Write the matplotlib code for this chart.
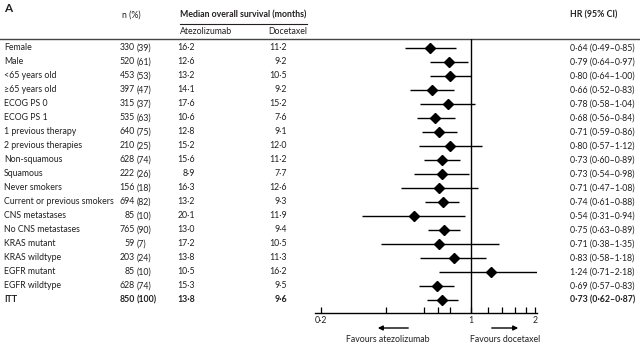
import matplotlib
matplotlib.use("Agg")
import matplotlib.pyplot as plt
import numpy as np

plt.rcParams['font.family'] = ['Lato', 'DejaVu Sans']

# data
labels = ["Female", "Male", "<65 years old", "\u226565 years old", "ECOG PS 0", "ECOG PS 1",
          "1 previous therapy", "2 previous therapies", "Non-squamous", "Squamous",
          "Never smokers", "Current or previous smokers", "CNS metastases",
          "No CNS metastases", "KRAS mutant", "KRAS wildtype", "EGFR mutant",
          "EGFR wildtype", "ITT"]
n_pts = [330, 520, 453, 397, 315, 535, 640, 210, 628, 222, 156, 694, 85, 765, 59, 203, 85, 628, 850]
n_pct = [39, 61, 53, 47, 37, 63, 75, 25, 74, 26, 18, 82, 10, 90, 7, 24, 10, 74, 100]
os_atezo = [16.2, 12.6, 13.2, 14.1, 17.6, 10.6, 12.8, 15.2, 15.6, 8.9, 16.3, 13.2, 20.1,
            13.0, 17.2, 13.8, 10.5, 15.3, 13.8]
os_doce = [11.2, 9.2, 10.5, 9.2, 15.2, 7.6, 9.1, 12.0, 11.2, 7.7, 12.6, 9.3, 11.9,
           9.4, 10.5, 11.3, 16.2, 9.5, 9.6]
hr = [0.64, 0.79, 0.80, 0.66, 0.78, 0.68, 0.71, 0.80, 0.73, 0.73, 0.71, 0.74, 0.54,
      0.75, 0.71, 0.83, 1.24, 0.69, 0.73]
hr_lo = [0.49, 0.64, 0.64, 0.52, 0.58, 0.56, 0.59, 0.57, 0.60, 0.54, 0.47, 0.61, 0.31,
         0.63, 0.38, 0.58, 0.71, 0.57, 0.62]
hr_hi = [0.85, 0.97, 1.00, 0.83, 1.04, 0.84, 0.86, 1.12, 0.89, 0.98, 1.08, 0.88, 0.94,
         0.89, 1.35, 1.18, 2.18, 0.83, 0.87]
tick_vals = [0.2, 0.4, 0.6, 0.7, 0.8, 1, 1.2, 1.4, 1.6, 1.8, 2]
tick_text = {0.2: "0\u00b72", 1: "1", 2: "2"}

W, H = 640, 352
TXT = '#231f20'
FS = 6.3

def dot(v, fmt="{:.1f}"):
    return fmt.format(v).replace('.', '\u00b7')

fig = plt.figure(figsize=(W / 100, H / 100), dpi=100)
bg = fig.add_axes([0, 0, 1, 1])
bg.set_xlim(0, W)
bg.set_ylim(H, 0)
bg.axis('off')

row0, dy = 48, 14.0
nrows = len(labels)

# headers
bg.text(4, 8, "A", fontsize=8.5, fontweight='bold', color=TXT, va='center')
bg.text(122, 15, "n (%)", fontsize=FS, color=TXT, va='center')
bg.text(180, 15, "Median overall survival (months)", fontsize=FS, fontweight='bold', color=TXT, va='center')
bg.plot([180, 307], [24, 24], color=TXT, lw=0.8)
bg.text(180, 31, "Atezolizumab", fontsize=FS, color=TXT, va='center')
bg.text(307, 31, "Docetaxel", fontsize=FS, color=TXT, va='center', ha='right')
bg.text(570, 15, "HR (95% CI)", fontsize=FS, fontweight='bold', color=TXT, va='center')
bg.plot([0, W], [39, 39], color='#444444', lw=1.0)

for i in range(nrows):
    y = row0 + i * dy
    fw = 'bold' if labels[i] == "ITT" else 'normal'
    kw = dict(fontsize=FS, color=TXT, va='center', fontweight=fw)
    bg.text(4, y, labels[i], **kw)
    bg.text(135, y, str(n_pts[i]), ha='right', **kw)
    bg.text(137, y, "(%d)" % n_pct[i], ha='left', **kw)
    bg.text(195, y, dot(os_atezo[i]), ha='right', **kw)
    bg.text(287, y, dot(os_doce[i]), ha='right', **kw)
    s = "%s (%s\u2013%s)" % (dot(hr[i], "{:.2f}"), dot(hr_lo[i], "{:.2f}"), dot(hr_hi[i], "{:.2f}"))
    bg.text(570, y, s, ha='left', **kw)

# forest panel
x_left, x_right, y_top, y_bot = 315, 537, 39, 313
dec = 214.0
one_px = 471
ax = fig.add_axes([x_left / W, 1 - y_bot / H, (x_right - x_left) / W, (y_bot - y_top) / H])
ax.set_xscale('log')
ax.set_xlim(10 ** ((x_left - one_px) / dec), 10 ** ((x_right - one_px) / dec))
ax.set_ylim((y_bot - row0) / dy, (y_top - row0) / dy)
ax.patch.set_alpha(0)
for sp in ['top', 'right', 'left']:
    ax.spines[sp].set_visible(False)
ax.spines['bottom'].set_linewidth(1.0)
ax.set_yticks([])
ax.xaxis.set_minor_locator(matplotlib.ticker.NullLocator())
ax.set_xticks(tick_vals)
ax.set_xticklabels([tick_text.get(t, "") for t in tick_vals])
ax.tick_params(axis='x', direction='in', length=4, width=0.9, labelsize=FS, colors='black',
               labelcolor=TXT, pad=2)
ax.axvline(1, color='black', lw=1.0)

ys = np.arange(nrows)
ax.hlines(ys, hr_lo, hr_hi, color='black', lw=1.0)
ax.plot(hr, ys, linestyle='none', marker='D', ms=5, color='black')

# favours arrows
bg.annotate("", xy=(375, 328), xytext=(411, 328),
            arrowprops=dict(arrowstyle='-|>', color='black', lw=1.0, mutation_scale=7))
bg.annotate("", xy=(521, 328), xytext=(489, 328),
            arrowprops=dict(arrowstyle='-|>', color='black', lw=1.0, mutation_scale=7))
bg.text(388, 339, "Favours atezolizumab", fontsize=FS, color=TXT, ha='center', va='center')
bg.text(505, 339, "Favours docetaxel", fontsize=FS, color=TXT, ha='center', va='center')

fig.savefig("out.png", dpi=100)
